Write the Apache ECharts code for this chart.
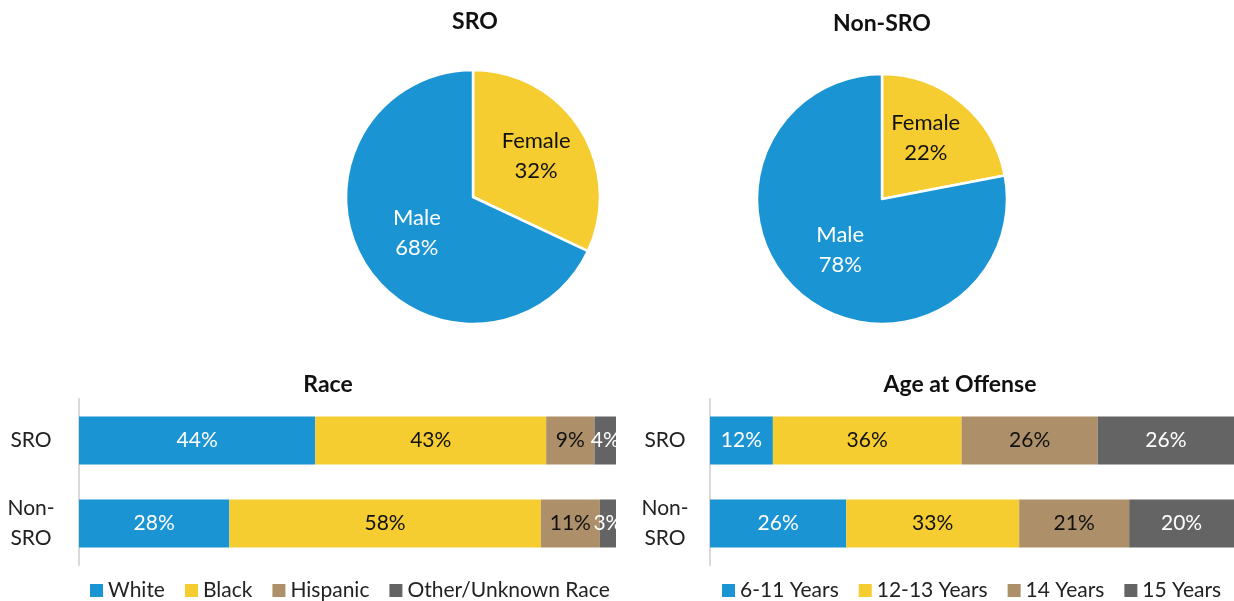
<!DOCTYPE html>
<html>
<head>
<meta charset="utf-8">
<script src="https://cdn.jsdelivr.net/npm/echarts@6/dist/echarts.min.js"></script>
<style>
  html, body { margin: 0; padding: 0; background: #fff; }
  #main { width: 1234px; height: 601px; }
</style>
</head>
<body>
<div id="main"></div>
<script>
// gender split
var genderNames = ['Female', 'Male'];
var sroGender = [32, 68];
var nonSroGender = [22, 78];

// race
var groups = ['SRO', 'Non-\nSRO'];
var raceNames = ['White', 'Black', 'Hispanic', 'Other/Unknown Race'];
var raceValues = [
  [44, 28],
  [43, 58],
  [9, 11],
  [4, 3]
];

// age at offense
var ageNames = ['6-11 Years', '12-13 Years', '14 Years', '15 Years'];
var ageValues = [
  [12, 26],
  [36, 33],
  [26, 21],
  [26, 20]
];

var colors = ['#1a94d2', '#f5cd30', '#ad8f69', '#646464'];
var labelColors = ['#fff', '#111', '#111', '#fff'];
var font = 'Lato, "Open Sans", sans-serif';

var myChart = echarts.init(document.getElementById('main'));

function pieSeries(values, center, radius, femaleOffset) {
  return {
    type: 'pie',
    center: center,
    radius: radius,
    startAngle: 90,
    clockwise: true,
    silent: true,
    data: genderNames.map(function (n, i) {
      return {
        name: n,
        value: values[i],
        itemStyle: { color: i == 0 ? colors[1] : colors[0] },
        label: { color: i == 0 ? '#111' : '#fff', offset: i == 0 ? femaleOffset : [0, 0] }
      };
    }),
    itemStyle: { borderColor: '#fff', borderWidth: 2.5 },
    label: {
      show: true,
      position: 'inside',
      formatter: '{b}\n{c}%',
      fontFamily: font,
      fontSize: 22,
      lineHeight: 30
    },
    labelLine: { show: false }
  };
}

function barSeries(names, values, gridIdx) {
  return names.map(function (n, i) {
    return {
      name: n,
      type: 'bar',
      stack: 'total' + gridIdx,
      xAxisIndex: gridIdx,
      yAxisIndex: gridIdx,
      barWidth: 48,
      silent: true,
      data: values[i],
      itemStyle: { color: colors[i] },
      label: {
        show: true,
        position: 'inside',
        formatter: '{c}%',
        color: labelColors[i],
        fontFamily: font,
        fontSize: 21
      }
    };
  });
}

function catAxis(gridIdx, margin) {
  return {
    type: 'category',
    gridIndex: gridIdx,
    inverse: true,
    data: groups,
    axisLine: { show: true, lineStyle: { color: '#d9d9d9', width: 2 } },
    axisTick: { show: false },
    axisLabel: {
      color: '#222',
      fontFamily: font,
      fontSize: 21,
      lineHeight: 30,
      align: 'center',
      margin: margin
    }
  };
}

function valAxis(gridIdx) {
  return {
    type: 'value',
    gridIndex: gridIdx,
    min: 0,
    max: 100,
    show: false
  };
}

var titleStyle = { fontFamily: font, fontSize: 23, fontWeight: 'bold', color: '#111' };
var legendText = { fontFamily: font, fontSize: 21, color: '#222' };

myChart.setOption({
  animation: false,
  title: [
    { text: 'SRO', left: 475, top: 10, padding: 0, textAlign: 'center', textStyle: titleStyle },
    { text: 'Non-SRO', left: 882, top: 12, padding: 0, textAlign: 'center', textStyle: titleStyle },
    { text: 'Race', left: 328, top: 373, padding: 0, textAlign: 'center', textStyle: titleStyle },
    { text: 'Age at Offense', left: 960, top: 373, padding: 0, textAlign: 'center', textStyle: titleStyle }
  ],
  legend: [
    {
      data: raceNames,
      left: 85,
      top: 575,
      icon: 'rect',
      itemWidth: 13,
      itemHeight: 13,
      itemGap: 20,
      textStyle: legendText
    },
    {
      data: ageNames,
      left: 717,
      top: 575,
      icon: 'rect',
      itemWidth: 13,
      itemHeight: 13,
      itemGap: 20,
      textStyle: legendText
    }
  ],
  grid: [
    { left: 79, right: 618, top: 399, bottom: 36 },
    { left: 710, right: 0, top: 399, bottom: 36 }
  ],
  xAxis: [valAxis(0), valAxis(1)],
  yAxis: [catAxis(0, 48), catAxis(1, 45)],
  series: [
    pieSeries(sroGender, [473, 197], 127, [7, -5]),
    pieSeries(nonSroGender, [882, 199], 125, [2, -11])
  ].concat(barSeries(raceNames, raceValues, 0), barSeries(ageNames, ageValues, 1))
});
</script>
</body>
</html>
